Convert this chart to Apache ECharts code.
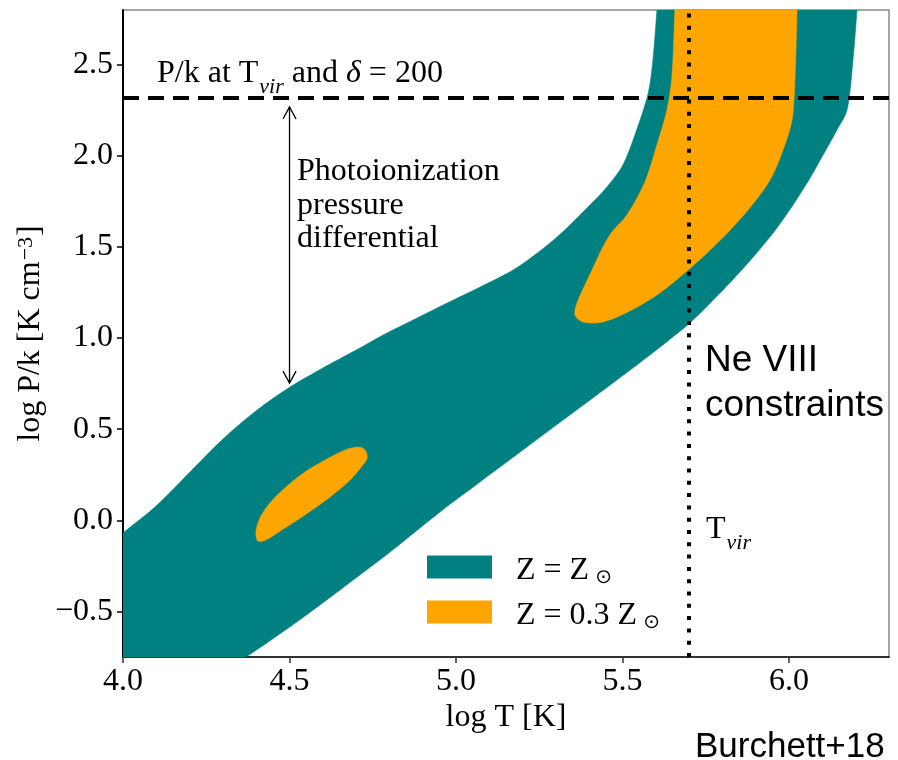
<!DOCTYPE html>
<html><head><meta charset="utf-8">
<script src="https://cdn.jsdelivr.net/npm/echarts@6/dist/echarts.min.js"></script>
<style>html,body{margin:0;padding:0;background:#fff}#c{width:898px;height:760px}</style>
</head><body><div id="c"></div>
<script>
// ---- data ----
const xTicks = [4.0, 4.5, 5.0, 5.5, 6.0];
const yTicks = [-0.5, 0.0, 0.5, 1.0, 1.5, 2.0, 2.5];
const tRange = [4.0, 6.3];
const pRange = [-0.75, 2.8];

// Z = Zsun region outline (log T, log P/k); corner points just outside the axes are clipped
const tealT = [3.95, 3.95, 4.000, 4.099, 4.201, 4.300, 4.399, 4.501, 4.600, 4.700, 4.781, 4.871, 4.973, 5.072, 5.171, 5.252, 5.303, 5.351, 5.402, 5.453, 5.501, 5.540, 5.577, 5.591, 5.603, 5.606, 6.207, 6.204, 6.192, 6.174, 6.144, 6.102, 6.063, 6.012, 5.952, 5.874, 5.793, 5.702, 5.582, 5.471, 5.273, 5.072, 4.952, 4.802, 4.652, 4.501, 4.369, 4.28];
const tealP = [-0.85, -0.15, -0.070, 0.078, 0.265, 0.446, 0.600, 0.731, 0.836, 0.934, 1.017, 1.099, 1.192, 1.280, 1.373, 1.478, 1.554, 1.637, 1.730, 1.829, 1.950, 2.131, 2.345, 2.526, 2.800, 2.9, 2.9, 2.800, 2.526, 2.251, 2.142, 2.004, 1.878, 1.730, 1.576, 1.406, 1.247, 1.083, 0.907, 0.753, 0.484, 0.210, 0.046, -0.174, -0.382, -0.585, -0.750, -0.85];

// Z = 0.3 Zsun, hot region
const hotT = [5.659, 5.657, 5.648, 5.633, 5.603, 5.567, 5.513, 5.468, 5.441, 5.411, 5.387, 5.363, 5.357, 5.381, 5.441, 5.522, 5.612, 5.697, 5.763, 5.829, 5.889, 5.943, 5.982, 6.009, 6.018, 6.024, 6.025];
const hotP = [2.9, 2.800, 2.432, 2.251, 2.059, 1.856, 1.675, 1.582, 1.500, 1.384, 1.291, 1.192, 1.126, 1.088, 1.088, 1.148, 1.247, 1.373, 1.483, 1.604, 1.730, 1.867, 2.032, 2.196, 2.432, 2.800, 2.9];

// Z = 0.3 Zsun, cool region
const coolT = [4.399, 4.411, 4.441, 4.486, 4.546, 4.607, 4.667, 4.706, 4.727, 4.733, 4.718, 4.682, 4.622, 4.546, 4.477, 4.429, 4.405];
const coolP = [-0.064, 0.013, 0.095, 0.177, 0.265, 0.331, 0.386, 0.402, 0.386, 0.342, 0.298, 0.221, 0.128, 0.029, -0.053, -0.108, -0.114];

const tVir = 5.7;          // log T_vir
const pVir = 2.32;         // log P/k at T_vir, delta = 200
const arrowT = 4.5;
const arrowP = [2.268, 0.753];

const nameSun = 'Z = Z\u2299';
const name03 = 'Z = 0.3 Z\u2299';

// ---- styles ----
const TEAL = '#008080', ORANGE = '#FFA500';
const SERIF = 'Liberation Serif', SANS = 'Liberation Sans';
const serifRich = {
  r: {fontFamily: SERIF, fontSize: 32, lineHeight: 38, verticalAlign: 'top', color: '#000'},
  i: {fontFamily: SERIF, fontStyle: 'italic', fontSize: 32, lineHeight: 38, verticalAlign: 'top', color: '#000'},
  s: {fontFamily: SERIF, fontStyle: 'italic', fontSize: 22, lineHeight: 22, verticalAlign: 'top', padding: [18, 0, 0, 1], color: '#000'},
  p: {fontFamily: SERIF, fontSize: 22, lineHeight: 22, verticalAlign: 'top', padding: [0, 1, 0, 1], color: '#000'}
};

function polySeries(name, ts, ps, color) {
  return {
    type: 'custom', name: name, coordinateSystem: 'cartesian2d',
    data: ts.map((t, i) => [t, ps[i]]),
    encode: {x: 0, y: 1},
    silent: true, clip: true, z: 2,
    itemStyle: {color: color},
    renderItem: function (params, api) {
      if (params.dataIndex !== 0) return null;
      const pts = ts.map((t, i) => api.coord([t, ps[i]]));
      return {type: 'polygon', shape: {points: pts, smooth: 0.3}, style: {fill: color, stroke: color, lineWidth: 0.5}};
    }
  };
}

const chart = echarts.init(document.getElementById('c'), null, {renderer: 'canvas'});
const fmt = v => (v < 0 ? '\u2212' : '') + Math.abs(v).toFixed(1);

chart.setOption({
  animation: false,
  backgroundColor: '#fff',
  grid: {left: 123, top: 10, width: 766, height: 647, show: true, borderColor: '#888', borderWidth: 1.5, outerBoundsMode: 'none', containLabel: false},
  xAxis: {
    type: 'value', min: tRange[0], max: tRange[1],
    name: 'log T [K]', nameLocation: 'middle', nameGap: 45, nameMoveOverlap: false,
    nameTextStyle: {fontFamily: SERIF, fontSize: 32, color: '#000'},
    axisLine: {show: true, onZero: false, lineStyle: {color: '#333', width: 2}},
    axisTick: {show: true, length: 6, customValues: xTicks, lineStyle: {color: '#333', width: 1.5}},
    axisLabel: {customValues: xTicks, formatter: fmt, fontFamily: SERIF, fontSize: 32, color: '#000', margin: 9},
    splitLine: {show: false}
  },
  yAxis: {
    type: 'value', min: pRange[0], max: pRange[1],
    name: '{r|log P/k [K cm}{p|\u22123}{r|]}', nameLocation: 'middle', nameGap: 70, nameRotate: 90, nameMoveOverlap: false,
    nameTextStyle: {fontFamily: SERIF, fontSize: 32, color: '#000', rich: serifRich},
    axisLine: {show: true, onZero: false, lineStyle: {color: '#000', width: 2}},
    axisTick: {show: true, length: 6, customValues: yTicks, lineStyle: {color: '#000', width: 1.5}},
    axisLabel: {customValues: yTicks, formatter: fmt, fontFamily: SERIF, fontSize: 32, color: '#000', margin: 10},
    splitLine: {show: false}
  },
  legend: {
    orient: 'vertical', left: 427, top: 549, padding: 0, itemWidth: 65, itemHeight: 23, itemGap: 6,
    selectedMode: false,
    data: [
      {name: nameSun, icon: 'rect', itemStyle: {color: TEAL}},
      {name: name03, icon: 'rect', itemStyle: {color: ORANGE}}
    ],
    formatter: n => '{r|' + n.replace('\u2299', '') + '}{o|\u2299}',
    textStyle: {rich: {
      r: {fontFamily: SERIF, fontSize: 32, lineHeight: 36, verticalAlign: 'top', color: '#000', padding: [6, 0, 0, 19]},
      o: {fontFamily: 'DejaVu Sans', fontSize: 20, lineHeight: 20, verticalAlign: 'top', padding: [19, 0, 0, 6], color: '#000'}
    }}
  },
  series: [
    polySeries(nameSun, tealT, tealP, TEAL),
    polySeries(name03, hotT, hotP, ORANGE),
    polySeries(name03, coolT, coolP, ORANGE),
    {
      type: 'custom', name: 'arrow', coordinateSystem: 'cartesian2d', silent: true, z: 5,
      data: [[arrowT, arrowP[0], arrowP[1]]],
      encode: {x: 0, y: [1, 2]},
      renderItem: function (params, api) {
        const a = api.coord([api.value(0), api.value(1)]);
        const b = api.coord([api.value(0), api.value(2)]);
        const hw = 6.5, hl = 12;
        const st = {stroke: '#000', lineWidth: 1.3, fill: null};
        return {type: 'group', children: [
          {type: 'line', shape: {x1: a[0], y1: a[1], x2: b[0], y2: b[1]}, style: st},
          {type: 'polyline', shape: {points: [[a[0] - hw, a[1] + hl], [a[0], a[1]], [a[0] + hw, a[1] + hl]]}, style: st},
          {type: 'polyline', shape: {points: [[b[0] - hw, b[1] - hl], [b[0], b[1]], [b[0] + hw, b[1] - hl]]}, style: st}
        ]};
      }
    },
    {
      type: 'line', name: 'refs', data: [], z: 6, silent: true,
      markLine: {
        silent: true, symbol: ['none', 'none'], animation: false,
        label: {show: false},
        emphasis: {disabled: true},
        data: [
          {yAxis: pVir, lineStyle: {color: '#000', width: 4, type: [16, 9], cap: 'butt'}},
          {xAxis: tVir, lineStyle: {color: '#000', width: 4, type: [4, 8.3], cap: 'butt'}}
        ]
      }
    }
  ],
  graphic: [
    {type: 'text', left: 157, top: 58, silent: true,
     style: {text: '{r|P/k at T}{s|vir}{r| and }{i|\u03b4}{r| = 200}', rich: serifRich}},
    {type: 'text', left: 297, top: 155, silent: true,
     style: {text: 'Photoionization\npressure\ndifferential', fontFamily: SERIF, fontSize: 32, lineHeight: 33.5, fill: '#000'}},
    {type: 'text', left: 705, top: 338, silent: true,
     style: {text: 'Ne VIII\nconstraints', fontFamily: SANS, fontSize: 37, lineHeight: 45, fill: '#000'}},
    {type: 'text', left: 706, top: 514, silent: true,
     style: {text: '{r|T}{s|vir}', rich: serifRich}},
    {type: 'text', left: 695, top: 730, silent: true,
     style: {text: 'Burchett+18', fontFamily: SANS, fontSize: 35, fill: '#000'}}
  ]
});
</script></body></html>
